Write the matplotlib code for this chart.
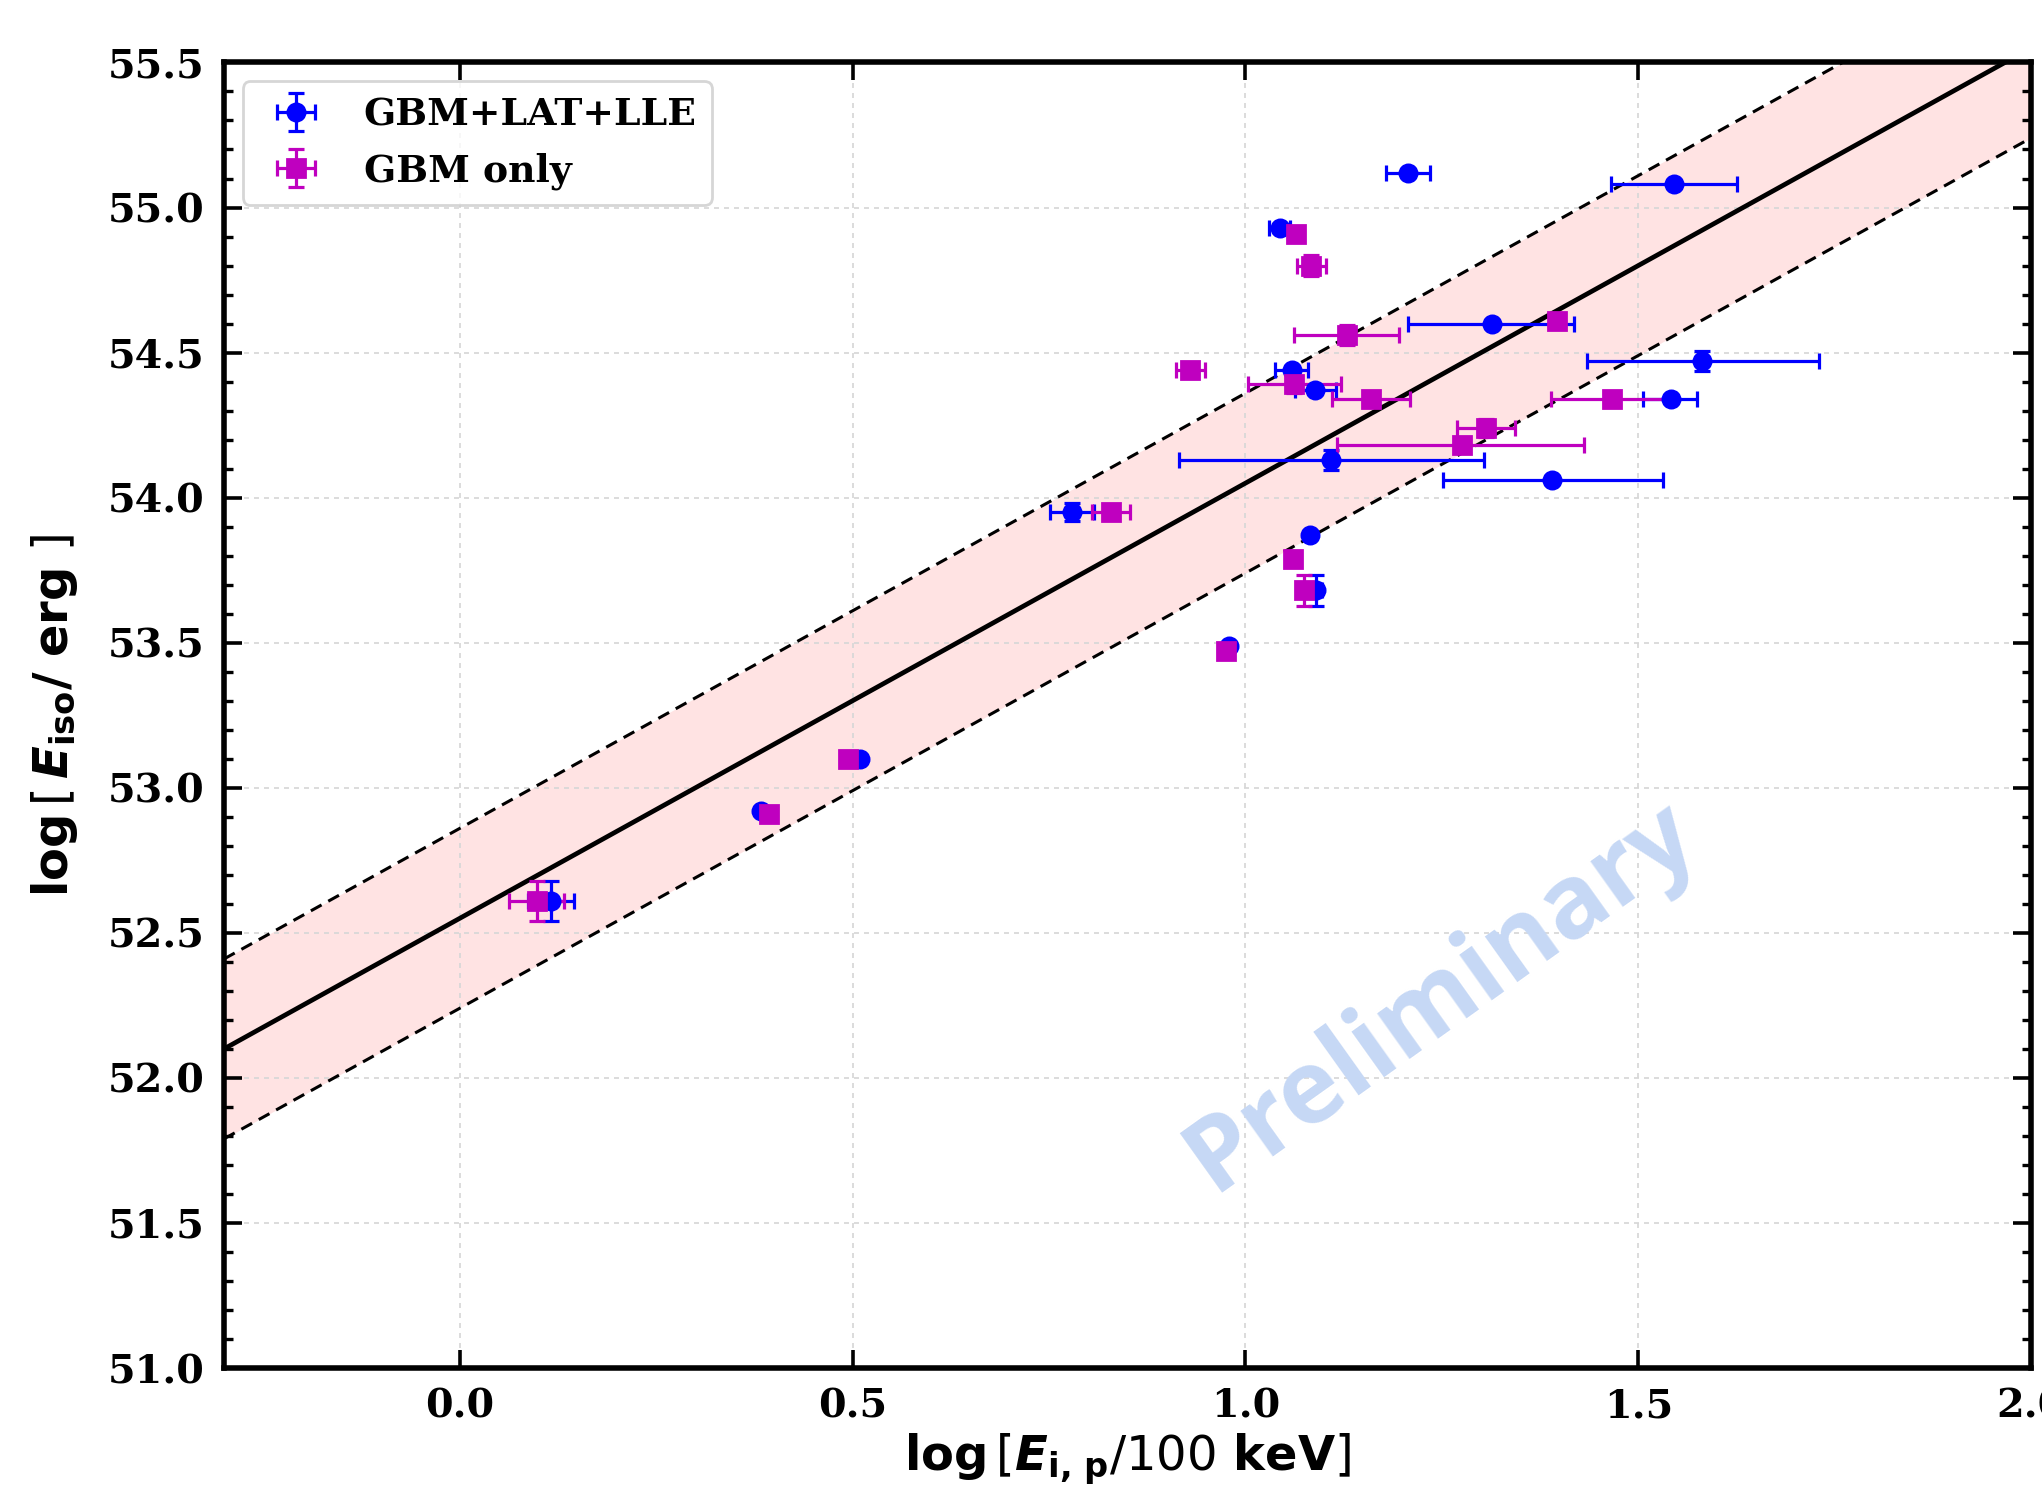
import numpy as np
import matplotlib
matplotlib.use("Agg")
import matplotlib.pyplot as plt
from matplotlib.ticker import MultipleLocator

# GBM+LAT+LLE sample
lle_x = [1.207, 1.545, 1.044, 1.314, 1.581, 1.059, 1.089, 1.541, 1.109,
         1.390, 0.779, 1.082, 1.090, 0.979, 0.509, 0.383, 0.116]
lle_y = [55.12, 55.08, 54.93, 54.60, 54.47, 54.44, 54.37, 54.34, 54.13,
         54.06, 53.95, 53.87, 53.68, 53.49, 53.10, 52.92, 52.61]
lle_xerr_lo = [0.028, 0.080, 0.014, 0.107, 0.146, 0.021, 0.026, 0.035, 0.194,
               0.138, 0.028, 0.0, 0.008, 0.0, 0.0, 0.0, 0.029]
lle_xerr_hi = [0.028, 0.081, 0.013, 0.104, 0.149, 0.021, 0.026, 0.034, 0.194,
               0.141, 0.028, 0.0, 0.008, 0.0, 0.0, 0.0, 0.029]
lle_yerr = [0.0, 0.0, 0.01, 0.0, 0.035, 0.01, 0.0, 0.0, 0.035,
            0.0, 0.03, 0.0, 0.054, 0.0, 0.0, 0.0, 0.07]

# GBM-only sample
gbm_x = [1.064, 1.084, 1.397, 1.129, 0.930, 1.062, 1.160, 1.467, 1.306,
         1.276, 0.829, 1.061, 1.074, 0.975, 0.494, 0.394, 0.098]
gbm_y = [54.91, 54.80, 54.61, 54.56, 54.44, 54.39, 54.34, 54.34, 54.24,
         54.18, 53.95, 53.79, 53.68, 53.47, 53.10, 52.91, 52.61]
gbm_xerr_lo = [0.0, 0.018, 0.0, 0.067, 0.018, 0.059, 0.05, 0.078, 0.037,
               0.159, 0.024, 0.0, 0.008, 0.0, 0.0, 0.0, 0.035]
gbm_xerr_hi = [0.0, 0.018, 0.0, 0.067, 0.018, 0.059, 0.05, 0.08, 0.037,
               0.155, 0.024, 0.0, 0.008, 0.0, 0.0, 0.0, 0.035]
gbm_yerr = [0.0, 0.035, 0.0, 0.035, 0.01, 0.03, 0.01, 0.0, 0.03,
            0.01, 0.0, 0.0, 0.054, 0.0, 0.0, 0.0, 0.07]

# Amati relation: log Eiso = intercept + slope * log(Ep/100 keV), with scatter
fit_intercept = 52.55
fit_slope = 1.50
fit_sigma = 0.31

fig = plt.figure(figsize=(10.21, 7.435), dpi=200)
ax = fig.add_axes([0.1097, 0.080, 0.885, 0.878])

xx = np.linspace(-0.3, 2.0, 200)
yy = fit_intercept + fit_slope * xx
ax.fill_between(xx, yy - fit_sigma, yy + fit_sigma, color="red", alpha=0.11,
                linewidth=0, zorder=1)
ax.plot(xx, yy, color="black", lw=1.7, zorder=2)
ax.plot(xx, yy + fit_sigma, color="black", lw=1.1, ls=(0, (4, 2.5)), zorder=2)
ax.plot(xx, yy - fit_sigma, color="black", lw=1.1, ls=(0, (4, 2.5)), zorder=2)

ax.errorbar(lle_x, lle_y, xerr=[lle_xerr_lo, lle_xerr_hi], yerr=lle_yerr,
            fmt="o", color="blue", ms=6.2, elinewidth=1.15, capsize=2.8,
            capthick=1.15, label="GBM+LAT+LLE", zorder=3)
ax.errorbar(gbm_x, gbm_y, xerr=[gbm_xerr_lo, gbm_xerr_hi], yerr=gbm_yerr,
            fmt="s", color="m", ms=6.2, elinewidth=1.15, capsize=2.8,
            capthick=1.15, label="GBM only", zorder=3)

ax.text(1.25, 52.28, "Preliminary", transform=ax.transData, rotation=35.5,
        rotation_mode="anchor", ha="center", va="center",
        fontsize=37, fontweight="bold", family=["Open Sans", "DejaVu Sans"],
        color="#c6d8f5", zorder=2.5)

ax.set_xlim(-0.3, 2.0)
ax.set_ylim(51.0, 55.5)
ax.xaxis.set_major_locator(MultipleLocator(0.5))
ax.yaxis.set_major_locator(MultipleLocator(0.5))
ax.yaxis.set_minor_locator(MultipleLocator(0.1))

ax.grid(True, which="major", color="0.84", ls=(0, (3, 3)), lw=0.6)

ax.tick_params(which="both", direction="in", top=True, right=True)
ax.tick_params(which="major", length=6.5, width=1.3, pad=7)
ax.tick_params(which="minor", length=3.2, width=1.2)
for lab in ax.get_xticklabels() + ax.get_yticklabels():
    lab.set_family("DejaVu Serif")
    lab.set_fontweight("bold")
    lab.set_fontsize(14.3)
for sp in ax.spines.values():
    sp.set_linewidth(2.0)

ax.set_xlabel(r"$\mathbf{log}\,[\mathbfit{E}_{\mathbf{i,\,p}}/100\ \mathbf{keV}]$",
              fontsize=17.3, labelpad=2)
ax.set_ylabel(r"$\mathbf{log}\,[\,\mathbfit{E}_{\mathbf{iso}}\mathbf{/\ erg}\ ]$",
              fontsize=17.3, labelpad=10)

leg = ax.legend(loc="upper left", prop={"family": "DejaVu Serif",
                                        "weight": "bold", "size": 13.6},
                framealpha=0.8, edgecolor="0.8", fancybox=True)

fig.savefig("out.png", dpi=200)
